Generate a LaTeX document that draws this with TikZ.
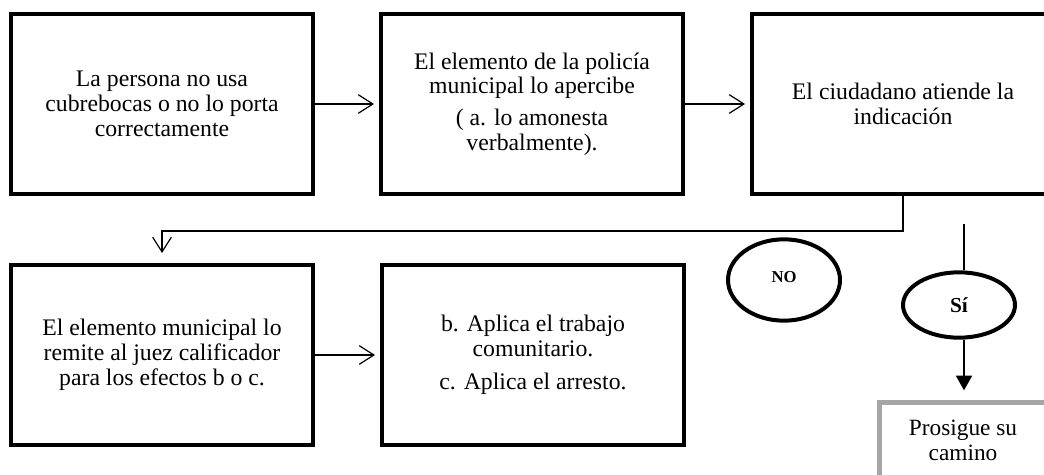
\documentclass[tikz,border=0pt]{standalone}
\usepackage{fontspec}
\setmainfont{Liberation Serif}
\usetikzlibrary{positioning,shapes.geometric,arrows.meta}
\begin{document}
\begin{tikzpicture}[x=0.75pt,y=-0.75pt,
		stepbox/.style={draw,line width=3pt,minimum width=226pt,minimum height=135pt,
			inner sep=0pt,align=center,font=\fontsize{17.8}{18.6}\selectfont},
		choice/.style={draw,ellipse,line width=3pt,inner sep=0pt},
		endbox/.style={draw=black!35,line width=3.5pt,minimum width=125pt,minimum height=56pt,
			inner sep=0pt,align=center,font=\fontsize{17.5}{18.6}\selectfont},
		flow/.style={line width=0.9pt,-{Straight Barb[length=11pt,width=14pt]},shorten >=4pt},
		yesflow/.style={line width=1.3pt,-{Triangle[length=11pt,width=12pt]},shorten >=7.5pt}]
		\useasboundingbox (0,0) rectangle (1044,474);
		\clip (0,0) rectangle (1044,474);
		\node[stepbox] (persona) at (162,104) {La persona no usa\\cubrebocas o no lo porta\\correctamente};
		\node[stepbox] (policia) at (532,104) {El elemento de la policía\\municipal lo apercibe\\[5pt]( a. lo amonesta\\verbalmente).};
		\node[stepbox] (ciudadano) at (903,104) {El ciudadano atiende la\\indicación};
		\node[stepbox] (juez) at (162,355) {El elemento municipal lo\\remite al juez calificador\\para los efectos b o c.};
		\node[stepbox] (sancion) at (533,355) {b. Aplica el trabajo\\comunitario.\\[6pt]c. Aplica el arresto.};
		\node[choice,minimum width=84pt,minimum height=61pt,
			font=\bfseries\fontsize{12.5}{14}\selectfont] (no) at (784,280) {\raisebox{5pt}{NO}};
		\node[choice,minimum width=84pt,minimum height=49pt,
			font=\bfseries\fontsize{16}{18}\selectfont] (si) at (959,305) {Sí};
		\node[endbox] (prosigue) at (963,440) {Prosigue su\\camino};
		\coordinate (sitop) at (964,224);
		\draw[flow] (persona) -- (policia);
		\draw[flow] (policia) -- (ciudadano);
		\draw[flow,shorten >=7.5pt] (ciudadano.south) -- ++(0,35) -| (juez.north);
		\draw[flow] (juez) -- (sancion);
		\draw[line width=1.3pt] (sitop) -- (sitop |- si.north);
		\draw[yesflow] (si.south -| sitop) -- (sitop |- prosigue.north);
\end{tikzpicture}
\end{document}
